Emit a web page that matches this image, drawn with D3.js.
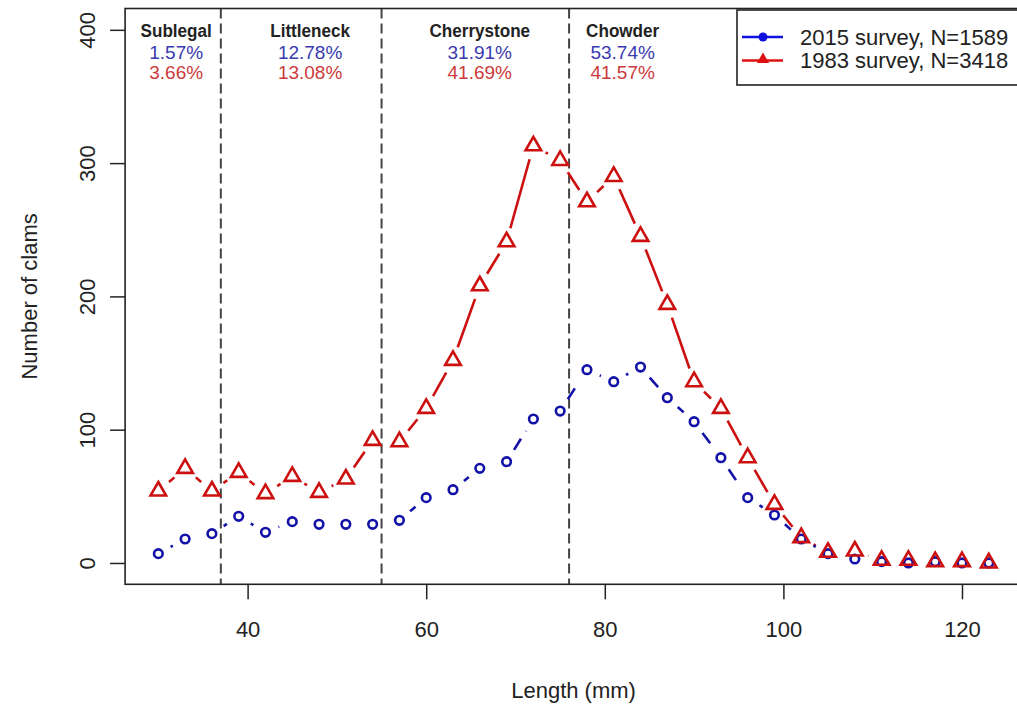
<!DOCTYPE html>
<html>
<head>
<meta charset="utf-8">
<script src="https://cdn.jsdelivr.net/npm/d3@7"></script>
<style>
body{margin:0;background:#fff;}
text{font-family:"Liberation Sans",Arial,sans-serif;}
</style>
</head>
<body>
<div id="chart"></div>
<script>
var w=1017;
var h=709;

// shell length classes (mm)
var lengths=[30,33,36,39,42,45,48,51,54,57,60,63,66,69,72,75,78,81,84,87,90,93,96,99,102,105,108,111,114,117,120,123];
// counts per class
var survey2015=[7,18,22,35,23,31,29,29,29,32,49,55,71,76,108,114,145,136,147,124,106,79,49,36,18,7,3,1,0,1,0,0];
var survey1983=[54,71,54,68,52,65,53,63,92,91,116,152,208,241,313,302,271,290,245,194,136,116,79,44,19,8,9,2,2,1,1,0];

var xTicks=[40,60,80,100,120];
var yTicks=[0,100,200,300,400];

// size class limits and labels
var breaks=[37,55,76];
var classNames=["Sublegal","Littleneck","Cherrystone","Chowder"];
var classPos=[32,47,66,82];
var pct2015=["1.57%","12.78%","31.91%","53.74%"];
var pct1983=["3.66%","13.08%","41.69%","41.57%"];

var legendLabels=["2015 survey, N=1589","1983 survey, N=3418"];

var blue="#1212a8", red="#cc1010";

var svg=d3.select("#chart").append("svg")
          .attr("width",w)
          .attr("height",h);
svg.append("rect").attr("width",w).attr("height",h).attr("fill","#fff");

var x=d3.scaleLinear().domain([26.28,126.72]).range([125.1,1022]);
var y=d3.scaleLinear().domain([-16,416]).range([584.3,8.5]);

// dashed class limits
svg.append("g").selectAll("line")
   .data(breaks)
   .enter().append("line")
   .attr("x1",function(d){return x(d);})
   .attr("x2",function(d){return x(d);})
   .attr("y1",y(416))
   .attr("y2",y(-16))
   .attr("stroke","#444")
   .attr("stroke-width",2)
   .attr("stroke-dasharray","10,5");

// lines with gaps around the points (like type="b")
function drawSeries(vals,color,dash){
  var gap=14;
  var g=svg.append("g");
  for(var i=0;i<vals.length-1;i++){
    var x1=x(lengths[i]),y1=y(vals[i]),x2=x(lengths[i+1]),y2=y(vals[i+1]);
    var L=Math.sqrt((x2-x1)*(x2-x1)+(y2-y1)*(y2-y1));
    if(L<=2*gap) continue;
    var ux=(x2-x1)/L,uy=(y2-y1)/L;
    g.append("line")
     .attr("x1",x1+ux*gap).attr("y1",y1+uy*gap)
     .attr("x2",x2-ux*gap).attr("y2",y2-uy*gap)
     .attr("stroke",color)
     .attr("stroke-width",2.6)
     .attr("stroke-dasharray",dash);
  }
}
drawSeries(survey1983,red,null);
drawSeries(survey2015,blue,"13,9");

var tri=function(r){
  var hw=r*Math.sqrt(3)/2;
  return "M0,"+(-r)+"L"+hw+","+(r/2)+"L"+(-hw)+","+(r/2)+"Z";
};

svg.append("g").selectAll("circle")
   .data(survey2015)
   .enter().append("circle")
   .attr("cx",function(d,i){return x(lengths[i]);})
   .attr("cy",function(d){return y(d);})
   .attr("r",4.3)
   .attr("fill","none")
   .attr("stroke",blue)
   .attr("stroke-width",2.6);

svg.append("g").selectAll("path")
   .data(survey1983)
   .enter().append("path")
   .attr("d",tri(9))
   .attr("transform",function(d,i){return "translate("+x(lengths[i])+","+y(d)+")";})
   .attr("fill","none")
   .attr("stroke",red)
   .attr("stroke-width",2.6)
   .attr("stroke-linejoin","miter");

// axes
var xAxis=svg.append("g")
   .attr("transform","translate(0,"+y(-16)+")")
   .call(d3.axisBottom(x).tickValues(xTicks).tickSize(15).tickPadding(22).tickFormat(d3.format("d")));
xAxis.select(".domain").remove();
xAxis.selectAll("line").attr("stroke","#222").attr("stroke-width",1.5);
xAxis.selectAll("text").attr("font-size",22).attr("fill","#222").style("font-family","'Liberation Sans',Arial,sans-serif");

var yAxis=svg.append("g")
   .attr("transform","translate("+x(26.28)+",0)")
   .call(d3.axisLeft(y).tickValues(yTicks).tickSize(15).tickFormat(d3.format("d")));
yAxis.select(".domain").remove();
yAxis.selectAll("line").attr("stroke","#222").attr("stroke-width",1.5);
yAxis.selectAll("text")
   .attr("x",null).attr("dy","0.35em")
   .attr("transform","translate(-38,0) rotate(-90)")
   .attr("text-anchor","middle")
   .attr("font-size",22).attr("fill","#222")
   .style("font-family","'Liberation Sans',Arial,sans-serif");

// plot box
svg.append("rect")
   .attr("x",x(26.28)).attr("y",y(416))
   .attr("width",x(126.72)-x(26.28)).attr("height",y(-16)-y(416))
   .attr("fill","none").attr("stroke","#222").attr("stroke-width",1.6);

svg.append("text")
   .attr("x",(x(26.28)+x(126.72))/2).attr("y",698)
   .attr("text-anchor","middle").attr("font-size",22).attr("fill","#222")
   .text("Length (mm)");
svg.append("text")
   .attr("transform","translate(37,"+((y(-16)+y(416))/2)+") rotate(-90)")
   .attr("text-anchor","middle").attr("font-size",22).attr("fill","#222")
   .text("Number of clams");

// class labels
var lab=svg.append("g");
lab.selectAll(".cn").data(classNames).enter().append("text")
   .attr("class","cn")
   .attr("transform",function(d,i){return "translate("+x(classPos[i])+",37) scale(0.9,1)";})
   .attr("text-anchor","middle").attr("font-size",19).attr("font-weight","bold").attr("fill","#222")
   .text(function(d){return d;});
lab.selectAll(".pb").data(pct2015).enter().append("text")
   .attr("class","pb")
   .attr("x",function(d,i){return x(classPos[i]);}).attr("y",59)
   .attr("text-anchor","middle").attr("font-size",19).attr("fill","#3a3ab0")
   .text(function(d){return d;});
lab.selectAll(".pr").data(pct1983).enter().append("text")
   .attr("class","pr")
   .attr("x",function(d,i){return x(classPos[i]);}).attr("y",79)
   .attr("text-anchor","middle").attr("font-size",19).attr("fill","#cc3a3a")
   .text(function(d){return d;});

// legend
var lg=svg.append("g");
lg.append("rect").attr("x",737).attr("y",10).attr("width",300).attr("height",75)
  .attr("fill","#fff").attr("stroke","#222").attr("stroke-width",1.6);
var legColors=["#1010e0","#e01010"];
legendLabels.forEach(function(t,i){
  var yy=37+i*23.5;
  lg.append("line").attr("x1",742).attr("x2",783).attr("y1",yy).attr("y2",yy)
    .attr("stroke",legColors[i]).attr("stroke-width",2.6);
  if(i===0){
    lg.append("circle").attr("cx",763).attr("cy",yy).attr("r",4.5).attr("fill",legColors[i]);
  }else{
    lg.append("path").attr("d",tri(7)).attr("transform","translate(763,"+(yy-1)+")").attr("fill",legColors[i]);
  }
  lg.append("text").attr("x",800).attr("y",yy).attr("dy","0.35em")
    .attr("font-size",22).attr("fill","#222").text(t);
});
</script>
</body>
</html>
